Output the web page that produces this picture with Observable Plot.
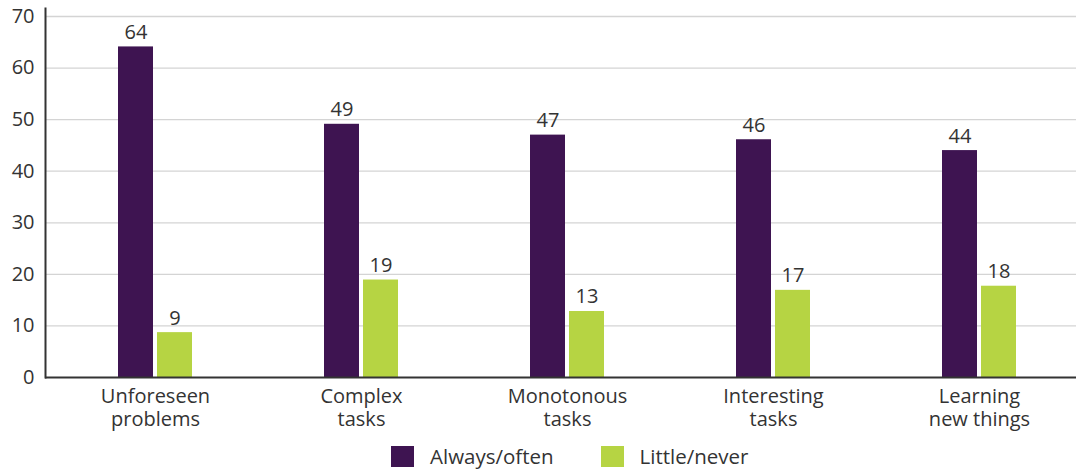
<!DOCTYPE html>
<html>
<head>
<meta charset="utf-8">
<script src="https://cdn.jsdelivr.net/npm/d3@7"></script>
<script src="https://cdn.jsdelivr.net/npm/@observablehq/plot@0.6"></script>
<style>
  html, body { margin: 0; padding: 0; background: #fff; }
  body { width: 1076px; height: 472px; overflow: hidden; font-family: "Open Sans", sans-serif; color: #333; }
  #legend { display: flex; align-items: center; height: 32px; padding-left: 391px; font-size: 20.5px; }
  .item { display: flex; align-items: center; margin-right: 47px; }
  .sw { width: 23px; height: 21px; margin-right: 16px; }
</style>
</head>
<body>
<div id="chart"></div>
<div id="legend"></div>
<script>
const categories = ["Unforeseen problems", "Complex tasks", "Monotonous tasks", "Interesting tasks", "Learning new things"];
const tickLabels = ["Unforeseen\nproblems", "Complex\ntasks", "Monotonous\ntasks", "Interesting\ntasks", "Learning\nnew things"];
const alwaysOften = [64.1, 49.1, 47, 46.1, 44];
const littleNever = [8.7, 18.9, 12.8, 16.9, 17.7];
const seriesNames = ["Always/often", "Little/never"];
const seriesColors = ["#3e1451", "#b6d443"];
const yTicks = [0, 10, 20, 30, 40, 50, 60, 70];

const dataA = categories.map((c, i) => ({category: c, value: alwaysOften[i]}));
const dataL = categories.map((c, i) => ({category: c, value: littleNever[i]}));
const labelOf = c => tickLabels[categories.indexOf(c)];

const W = 1076, H = 440;
const plot = Plot.plot({
  width: W,
  height: H,
  marginLeft: 45,
  marginRight: 0,
  marginTop: 16,
  marginBottom: 63,
  style: {fontFamily: "'Open Sans', sans-serif", fontSize: "20px", color: "#333", background: "#fff"},
  x: {domain: categories, range: [52, 1082], padding: 0, label: null},
  y: {domain: [0, 70], label: null},
  marks: [
    Plot.gridY(yTicks.filter(d => d > 0), {stroke: "#d4d4d4", strokeOpacity: 1, strokeWidth: 1.3}),
    Plot.barY(dataA, {x: "category", y: "value", fill: seriesColors[0], insetLeft: 66, insetRight: 105}),
    Plot.barY(dataL, {x: "category", y: "value", fill: seriesColors[1], insetLeft: 105, insetRight: 66}),
    Plot.text(dataA, {x: "category", y: "value", text: d => String(Math.round(d.value)), dx: -19.5, dy: -8, lineAnchor: "bottom", fill: "#333", fontSize: 20}),
    Plot.text(dataL, {x: "category", y: "value", text: d => String(Math.round(d.value)), dx: 19.5, dy: -8, lineAnchor: "bottom", fill: "#333", fontSize: 20}),
    Plot.axisY({ticks: yTicks, tickSize: 0, tickPadding: 11, label: null, fill: "#333", fontSize: 20}),
    Plot.axisX({tickSize: 0, tickPadding: 9, label: null, tickFormat: labelOf, lineHeight: 1.15, fill: "#333", fontSize: 20}),
    Plot.ruleY([0], {stroke: "#333", strokeWidth: 2}),
    Plot.frame({anchor: "left", stroke: "#333", strokeWidth: 2, insetTop: -8})
  ]
});
document.getElementById("chart").appendChild(plot);

const legend = document.getElementById("legend");
seriesNames.forEach((n, i) => {
  const it = document.createElement("div");
  it.className = "item";
  const sw = document.createElement("div");
  sw.className = "sw";
  sw.style.background = seriesColors[i];
  const t = document.createElement("span");
  t.textContent = n;
  it.appendChild(sw); it.appendChild(t);
  legend.appendChild(it);
});
</script>
</body>
</html>
